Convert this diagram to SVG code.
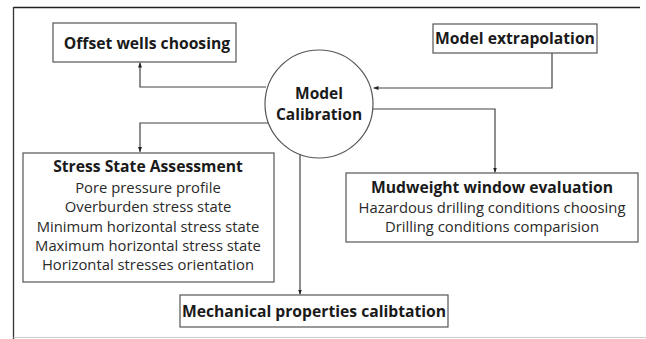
<svg xmlns="http://www.w3.org/2000/svg" width="646" height="339" viewBox="0 0 646 339">
<style>
.box{fill:#fff;stroke:#555;stroke-width:1.2}
.t{font-family:"Open Sans","DejaVu Sans",sans-serif;fill:#1a1a1a;text-anchor:middle}
.b{font-weight:bold;font-size:15.7px}
.r{font-size:14.8px;fill:#2a2a2a}
.c{fill:none;stroke:#444;stroke-width:1.2}
</style>
<defs>
<marker id="ah" viewBox="0 0 10 10" refX="10" refY="5" markerWidth="5" markerHeight="5" orient="auto" markerUnits="userSpaceOnUse">
<path d="M0,1 L10,5 L0,9 z" fill="#222"/>
</marker>
</defs>
<rect width="646" height="339" fill="#fff"/>
<g id="frame">
<line x1="13.5" y1="7.5" x2="640" y2="7.5" stroke="#222" stroke-width="1.5"/>
<line x1="13.5" y1="7" x2="13.5" y2="339" stroke="#333" stroke-width="1.3"/>
<line x1="13.5" y1="337.5" x2="646" y2="337.5" stroke="#ccc" stroke-width="1"/>
</g>
<g id="connectors">
<path class="c" d="M266,87 H140 V62.5" marker-end="url(#ah)"/>
<path class="c" d="M268,123 H140 V152" marker-end="url(#ah)"/>
<path class="c" d="M552,53 V88 H373.5" marker-end="url(#ah)"/>
<path class="c" d="M373,109 H495 V172.5" marker-end="url(#ah)"/>
<path class="c" d="M300,154 V294.5" marker-end="url(#ah)"/>
</g>
<g id="offset">
<rect class="box" x="53" y="23" width="183" height="39"/>
<text class="t b" x="147" y="48.5">Offset wells choosing</text>
</g>
<g id="extrapolation">
<rect class="box" x="433" y="24" width="164" height="29"/>
<text class="t b" x="515" y="44">Model extrapolation</text>
</g>
<g id="calibration">
<circle cx="319" cy="104" r="54" fill="#fff" stroke="#555" stroke-width="1.2"/>
<text class="t b" x="319" y="99" style="font-size:15.5px">Model</text>
<text class="t b" x="319" y="120" style="font-size:15.5px">Calibration</text>
</g>
<g id="stress">
<rect class="box" x="23" y="153" width="251" height="129"/>
<text class="t b" x="148" y="172">Stress State Assessment</text>
<text class="t r" x="148" y="193">Pore pressure profile</text>
<text class="t r" x="148" y="212">Overburden stress state</text>
<text class="t r" x="148" y="232">Minimum horizontal stress state</text>
<text class="t r" x="148" y="251">Maximum horizontal stress state</text>
<text class="t r" x="148" y="270">Horizontal stresses orientation</text>
</g>
<g id="mudweight">
<rect class="box" x="346" y="173" width="292" height="69"/>
<text class="t b" x="492" y="193">Mudweight window evaluation</text>
<text class="t r" x="492" y="213">Hazardous drilling conditions choosing</text>
<text class="t r" x="492" y="232">Drilling conditions comparision</text>
</g>
<g id="mechanical">
<rect class="box" x="180" y="295" width="268" height="32"/>
<text class="t b" x="314" y="317">Mechanical properties calibtation</text>
</g>
</svg>
